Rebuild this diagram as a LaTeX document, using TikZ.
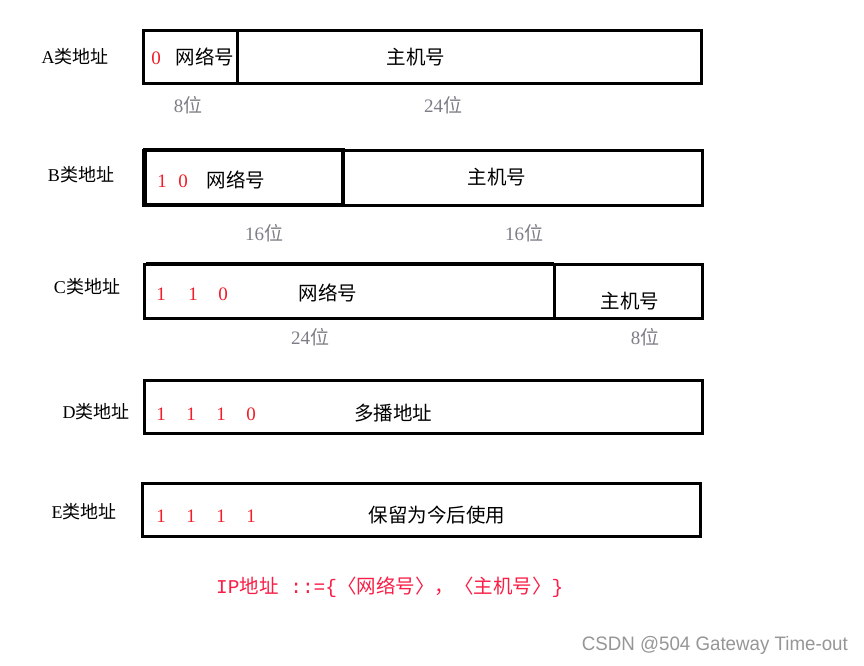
\documentclass[tikz,border=0pt]{standalone}
\usepackage{fontspec}
\setmainfont{Liberation Serif}
\setmonofont{Liberation Mono}
\newfontfamily\cjk{Noto Sans CJK SC}
\newfontfamily\wm[FakeStretch=0.96]{Liberation Sans}
\definecolor{bitred}{RGB}{240,30,40}
\definecolor{formred}{RGB}{250,30,70}
\definecolor{bitgray}{RGB}{125,125,135}
\definecolor{wmgray}{RGB}{150,150,150}
\begin{document}
\begin{tikzpicture}[x=1pt,y=-1pt,
  frame/.style={draw=black,line width=3pt},
  lbl/.style={inner sep=0pt,font=\fontsize{18}{18}\selectfont},
  bit/.style={inner sep=0pt,text=bitred,font=\fontsize{19}{19}\selectfont},
  width/.style={inner sep=0pt,text=bitgray,font=\fontsize{19}{19}\selectfont},
  field/.style={inner sep=0pt,font=\fontsize{19.5}{19.5}\cjk}]
\useasboundingbox[fill=white] (0,0) rectangle (864,665);
% A
\draw[frame] (143,30) rectangle (701,83);
\draw[frame] (237,30) -- (237,83);
\node[lbl] (la) at (75,57) {A{\cjk 类地址}};
\node[bit] (a0) at (156,58) {0};
\node[field] (anet) at (205,57) {网络号};
\node[field] (ahost) at (416,57) {主机号};
\node[width] (aw1) at (188,105) {8{\cjk 位}};
\node[width] (aw2) at (443,105) {24{\cjk 位}};
% B
\draw[frame] (143,150) rectangle (702,205);
\draw[frame,line width=4pt] (145,150) rectangle (343,205);
\node[lbl] (lb) at (81,175) {B{\cjk 类地址}};
\node[bit] (b1) at (162,181) {1};
\node[bit] (b0) at (183,181) {0};
\node[field] (bnet) at (236,180) {网络号};
\node[field] (bhost) at (497,177) {主机号};
\node[width] (bw1) at (264,233) {16{\cjk 位}};
\node[width] (bw2) at (524,233) {16{\cjk 位}};
% C
\draw[frame] (144,264) rectangle (702,318);
\draw[frame] (146,263) -- (554,263);
\draw[frame] (554,264) -- (554,318);
\node[lbl] (lc) at (87,287) {C{\cjk 类地址}};
\node[bit] (c1) at (161,294) {1};
\node[bit] (c2) at (193,294) {1};
\node[bit] (c3) at (223,294) {0};
\node[field] (cnet) at (328,293) {网络号};
\node[field] (chost) at (630,301) {主机号};
\node[width] (cw1) at (310,337) {24{\cjk 位}};
\node[width] (cw2) at (645,337) {8{\cjk 位}};
% D
\draw[frame] (144,380) rectangle (702,433);
\node[lbl] (ld) at (96,412) {D{\cjk 类地址}};
\node[bit] (d1) at (161,414) {1};
\node[bit] (d2) at (191,414) {1};
\node[bit] (d3) at (221,414) {1};
\node[bit] (d4) at (251,414) {0};
\node[field] (dfield) at (393,413) {多播地址};
% E
\draw[frame] (142,483) rectangle (700,536);
\node[lbl] (le) at (84,512) {E{\cjk 类地址}};
\node[bit] (e1) at (161,516) {1};
\node[bit] (e2) at (191,516) {1};
\node[bit] (e3) at (221,516) {1};
\node[bit] (e4) at (251,516) {1};
\node[field] (efield) at (437,515) {保留为今后使用};
% formula
\node[inner sep=0pt,text=formred,font=\fontsize{19.5}{19.5}\selectfont,anchor=west] (form) at (216,587) {\ttfamily IP{\cjk 地址} ::=\{{\cjk 〈网络号〉，〈主机号〉}\}};
% watermark
\node[inner sep=0pt,text=wmgray,font=\fontsize{19.5}{19.5}\wm,anchor=east] (wmk) at (848,645) {CSDN @504 Gateway Time-out};
\end{tikzpicture}
\end{document}
